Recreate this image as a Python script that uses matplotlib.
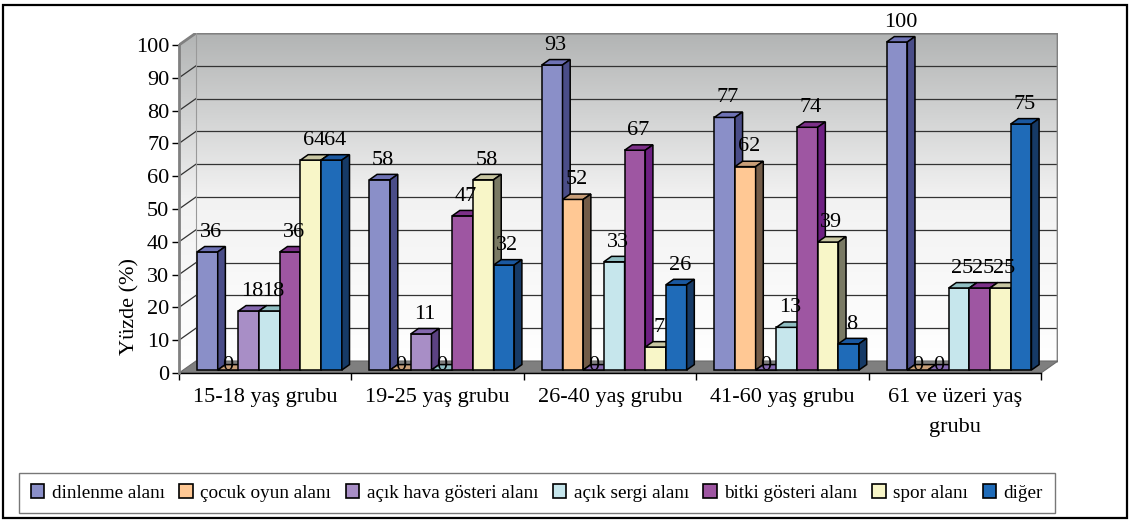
import numpy as np
import matplotlib
matplotlib.use("Agg")
import matplotlib.pyplot as plt
from matplotlib.patches import Polygon, Patch, Rectangle
from matplotlib.colors import LinearSegmentedColormap

# --- data ---
categories = ["15-18 yaş grubu", "19-25 yaş grubu", "26-40 yaş grubu",
              "41-60 yaş grubu", "61 ve üzeri yaş\ngrubu"]
series_names = ["dinlenme alanı", "çocuk oyun alanı", "açık hava gösteri alanı",
                "açık sergi alanı", "bitki gösteri alanı", "spor alanı", "diğer"]
dinlenme = [36, 58, 93, 77, 100]
cocuk_oyun = [0, 0, 52, 62, 0]
acik_hava = [18, 11, 0, 0, 0]
acik_sergi = [18, 0, 33, 13, 25]
bitki = [36, 47, 67, 74, 25]
spor = [64, 58, 7, 39, 25]
diger = [64, 32, 26, 8, 75]
yticks = list(range(0, 101, 10))

series = [dinlenme, cocuk_oyun, acik_hava, acik_sergi, bitki, spor, diger]

# front / top / side colours for the fake 3d look
front_cols = ["#8A8FC8", "#FFC894", "#A88EC6", "#C6E6EC", "#9E56A2", "#F8F6C8", "#1F6BB8"]
top_cols = ["#6E72B4", "#C89E78", "#8468AE", "#90BEC2", "#7C3088", "#C8C6A2", "#1A58A0"]
side_cols = ["#4A4D88", "#735C48", "#5C4282", "#6A8C90", "#6E2082", "#7A7A64", "#163A66"]

plt.rcParams["font.family"] = ["Liberation Serif", "DejaVu Serif"]
FS = 16

fig = plt.figure(figsize=(11.3, 5.21), dpi=100)
ax = fig.add_axes([179 / 1130, (521 - 373) / 521, 879 / 1130, 340 / 521])

n_cat = len(categories)
DX = 17 / 172.4      # depth offset, category units
DY = 12 / 3.28       # depth offset, value units
z = 0.25             # bar depth position
bd = 0.45            # bar depth fraction
gap = 0.08
w = 0.12

# walls with gradient
cmap = LinearSegmentedColormap.from_list("wall", ["#FFFFFF", "#F2F2F2", "#B2B4B4"])
grad = np.linspace(0, 1, 256).reshape(-1, 1)
ax.imshow(grad, cmap=cmap, origin="lower", aspect="auto",
          extent=[DX, n_cat + DX, DY, 100 + DY], zorder=0)
side_wall = Polygon([(0, 0), (DX, DY), (DX, 100 + DY), (0, 100)], closed=True,
                    facecolor="none", edgecolor="none")
ax.add_patch(side_wall)
im2 = ax.imshow(grad, cmap=cmap, origin="lower", aspect="auto",
                extent=[0, DX, 0, 100 + DY], zorder=0)
im2.set_clip_path(side_wall)

# floor
ax.add_patch(Polygon([(0, 0), (n_cat, 0), (n_cat + DX, DY), (DX, DY)], closed=True,
                     facecolor="#7F7F7F", edgecolor="#6A6A6A", lw=0.8, zorder=1))

# gridlines on back and side walls
for t in yticks[1:]:
    ax.plot([DX, n_cat + DX], [t + DY, t + DY], color="#333333", lw=0.9, zorder=0.5)
    ax.plot([0, DX], [t, t + DY], color="#333333", lw=0.9, zorder=0.5)

# wall edges
ax.plot([0, DX, n_cat + DX, n_cat + DX], [100, 100 + DY, 100 + DY, DY],
        color="#808080", lw=2, zorder=0.6)
ax.plot([DX, DX], [DY, 100 + DY], color="#999999", lw=0.8, zorder=0.6)

# bars
bdx, bdy = bd * DX, bd * DY
for i in range(n_cat):
    for j, vals in enumerate(series):
        v = vals[i]
        x0 = i + gap + j * w + z * DX
        y0 = z * DY
        zo = 3 + (i * 7 + j) * 0.01
        ax.bar(x0, v, width=w, bottom=y0, align="edge", color=front_cols[j],
               edgecolor="black", lw=1.1, zorder=zo)
        ax.add_patch(Polygon([(x0, y0 + v), (x0 + w, y0 + v), (x0 + w + bdx, y0 + v + bdy),
                              (x0 + bdx, y0 + v + bdy)], closed=True, facecolor=top_cols[j],
                             edgecolor="black", lw=1.1, zorder=zo))
        ax.add_patch(Polygon([(x0 + w, y0), (x0 + w + bdx, y0 + bdy), (x0 + w + bdx, y0 + v + bdy),
                              (x0 + w, y0 + v)], closed=True, facecolor=side_cols[j],
                             edgecolor="black", lw=1.1, zorder=zo))
        off = 6.0 if v > 0 else 1.5
        ax.text(x0 + w / 2 + (0.02 if v > 0 else 0), y0 + v + off, str(v),
                ha="center", va="center", fontsize=FS, zorder=20, clip_on=False)

ax.set_xlim(0, n_cat + DX)
ax.set_ylim(0, 100 + DY)

for s in ["top", "right"]:
    ax.spines[s].set_visible(False)
ax.spines["left"].set_bounds(0, 100)
ax.spines["left"].set_color("#808080")
ax.spines["left"].set_linewidth(2)
ax.spines["bottom"].set_bounds(0, n_cat)
ax.spines["bottom"].set_linewidth(1)
ax.spines["bottom"].set_zorder(2)

ax.set_yticks(yticks)
ax.tick_params(axis="y", length=5, width=1, color="black", pad=2, labelsize=FS)
ax.set_xticks(range(n_cat + 1))
ax.set_xticklabels([])
ax.tick_params(axis="x", which="major", length=5, width=1, color="black")
ax.set_xticks(np.arange(n_cat) + 0.5, minor=True)
ax.set_xticklabels(categories, minor=True)
ax.tick_params(axis="x", which="minor", length=0, pad=11, labelsize=FS)
for lbl in ax.get_xticklabels(minor=True):
    lbl.set_linespacing(1.75)

ax.text(-0.056, 0.195, "Yüzde (%)", transform=ax.transAxes, rotation=90,
        ha="center", va="center", fontsize=FS)

handles = [Patch(facecolor=c, edgecolor="black", lw=1.2) for c in front_cols]
leg = fig.legend(handles, series_names, loc="center", bbox_to_anchor=(537 / 1130, 28 / 521),
                 ncol=7, fontsize=13.8, frameon=True, fancybox=False, handlelength=0.7,
                 handleheight=0.7, handletextpad=0.4, columnspacing=0.75, borderpad=0.6)
leg.get_frame().set_edgecolor("#555555")
leg.get_frame().set_linewidth(1)

fig.patches.append(Rectangle((3 / 1130, 3 / 521), 1124 / 1130, 513 / 521,
                             transform=fig.transFigure, fill=False, edgecolor="black", lw=1.6))

fig.savefig("out.png", dpi=100)
